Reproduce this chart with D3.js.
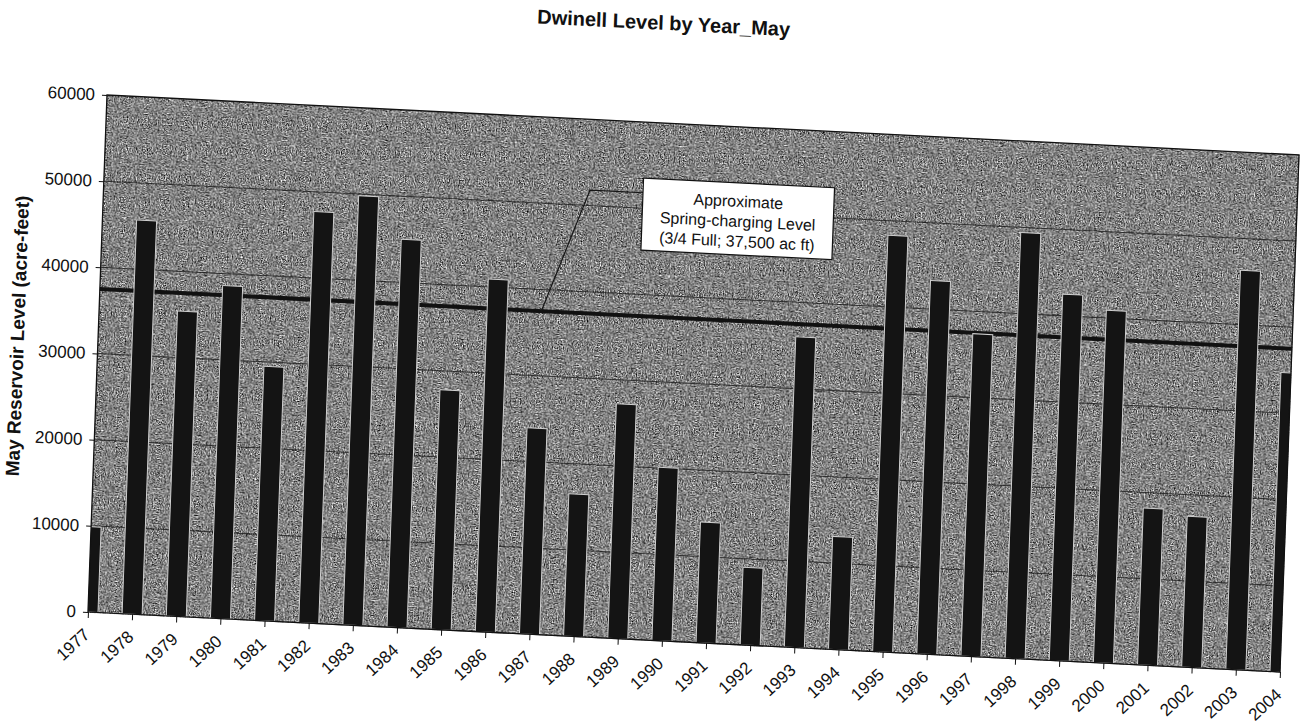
<!DOCTYPE html>
<html><head><meta charset="utf-8">
<script src="https://cdn.jsdelivr.net/npm/d3@7"></script>
<style>
html,body{margin:0;padding:0;background:#fff;}
svg{display:block;font-family:"Liberation Sans",Arial,sans-serif;}
</style></head><body>
<svg id="chart" width="1309" height="725"></svg>
<script>
// ---- data ----
const years = [1977,1978,1979,1980,1981,1982,1983,1984,1985,1986,1987,1988,1989,1990,
               1991,1992,1993,1994,1995,1996,1997,1998,1999,2000,2001,2002,2003,2004];
const mayLevels = [9900,45700,35400,38600,29500,47700,49800,45000,27800,40900,23900,16500,27200,20100,
                   14000,9000,36000,13100,48300,43300,37400,49400,42500,40900,18200,17500,46300,34700];
const yTicks = [0,10000,20000,30000,40000,50000,60000];
const chartTitle = "Dwinell Level by Year_May";
const yAxisTitle = "May Reservoir Level (acre-feet)";
const springLevel = 37500;
const calloutLines = ["Approximate","Spring-charging Level","(3/4 Full; 37,500 ac ft)"];
const calloutAnchor = {year: 1989.2, value: 53500};
const leaderPoints = [[1989.2, 51800],[1988.0, 51800],[1987.0, 37500]];

// ---- layout (scan is slightly skewed) ----
const W = 1192, H = 517;
const svg = d3.select("#chart");
svg.append("rect").attr("width",1309).attr("height",725).attr("fill","#fff");

const defs = svg.append("defs");
defs.append("clipPath").attr("id","plotClip").append("rect").attr("width",W).attr("height",H);
const f = defs.append("filter").attr("id","grain")
  .attr("x",0).attr("y",0).attr("width",1).attr("height",1)
  .attr("color-interpolation-filters","sRGB");
f.append("feTurbulence").attr("type","fractalNoise").attr("baseFrequency",0.8)
  .attr("numOctaves",3).attr("seed",23);
f.append("feColorMatrix").attr("type","matrix")
  .attr("values","1 0 0 0 0  1 0 0 0 0  1 0 0 0 0  0 0 0 0 1");
const ct = f.append("feComponentTransfer");
["feFuncR","feFuncG","feFuncB"].forEach(n=>ct.append(n).attr("type","linear").attr("slope",1.5).attr("intercept",-0.24));

const g = svg.append("g").attr("transform","matrix(1,0.0503,-0.0368,1,107,95)");

const x = d3.scalePoint().domain(years).range([0, W]);
const xLin = d3.scaleLinear().domain([years[0], years[years.length-1]]).range([0, W]);
const y = d3.scaleLinear().domain([0, 60000]).range([H, 0]);

// plot background
g.append("rect").attr("width",W).attr("height",H).attr("fill","#838383");
g.append("rect").attr("width",W).attr("height",H).attr("fill","#838383").attr("filter","url(#grain)");

// gridlines
g.append("g").selectAll("line").data(yTicks.slice(1,-1)).join("line")
  .attr("x1",0).attr("x2",W).attr("y1",d=>y(d)).attr("y2",d=>y(d))
  .attr("stroke","#1a1a1a").attr("stroke-width",1).attr("opacity",0.8);

// spring-charging line
g.append("line").attr("x1",0).attr("x2",W).attr("y1",y(springLevel)).attr("y2",y(springLevel))
  .attr("stroke","#111").attr("stroke-width",4);

// bars
const bw = 20;
g.append("g").attr("clip-path","url(#plotClip)").selectAll("rect").data(years).join("rect")
  .attr("x",(d)=>x(d)-bw/2).attr("width",bw)
  .attr("y",(d,i)=>y(mayLevels[i])).attr("height",(d,i)=>H-y(mayLevels[i]))
  .attr("fill","#141414").attr("stroke","#cfcfcf").attr("stroke-width",1);

// border
g.append("rect").attr("width",W).attr("height",H).attr("fill","none").attr("stroke","#111").attr("stroke-width",1.3);

// y axis
const ya = g.append("g").call(d3.axisLeft(y).tickValues(yTicks).tickSize(5).tickPadding(7).tickFormat(d3.format("d")));
ya.select(".domain").remove();
ya.selectAll("line").attr("stroke","#111");
ya.selectAll("text").attr("font-size",17).attr("fill","#111").attr("font-family","'Liberation Sans',Arial,sans-serif");

// x axis
const xa = g.append("g").attr("transform",`translate(0,${H})`).call(d3.axisBottom(x).tickSize(6));
xa.select(".domain").remove();
xa.selectAll("line").attr("stroke","#111");
xa.selectAll("text").attr("x",0).attr("y",0).attr("dy",0)
  .attr("text-anchor","end").attr("transform","translate(3,24) rotate(-45)")
  .attr("font-size",17).attr("fill","#111").attr("font-family","'Liberation Sans',Arial,sans-serif");

// title
g.append("text").attr("x",553).attr("y",-93).attr("text-anchor","middle")
  .attr("font-size",20).attr("font-weight","bold").attr("fill","#111").text(chartTitle);

// y axis title
g.append("text").attr("transform","translate(-74,245) rotate(-90)").attr("text-anchor","middle")
  .attr("font-size",19).attr("font-weight","bold").attr("fill","#111").text(yAxisTitle);

// leader line
g.append("path")
  .attr("d", d3.line().x(p=>xLin(p[0])).y(p=>y(p[1]))(leaderPoints))
  .attr("fill","none").attr("stroke","#151515").attr("stroke-width",1.2);

// callout box
const bx = xLin(calloutAnchor.year), by = y(calloutAnchor.value), bwBox = 191, bhBox = 72;
g.append("rect").attr("x",bx).attr("y",by).attr("width",bwBox).attr("height",bhBox)
  .attr("fill","#fff").attr("stroke","#111").attr("stroke-width",1.2);
g.append("g").selectAll("text").data(calloutLines).join("text")
  .attr("x",bx+bwBox/2).attr("y",(d,i)=>by+24+i*20).attr("text-anchor","middle")
  .attr("font-size",16).attr("fill","#111").text(d=>d);
</script>
</body></html>
